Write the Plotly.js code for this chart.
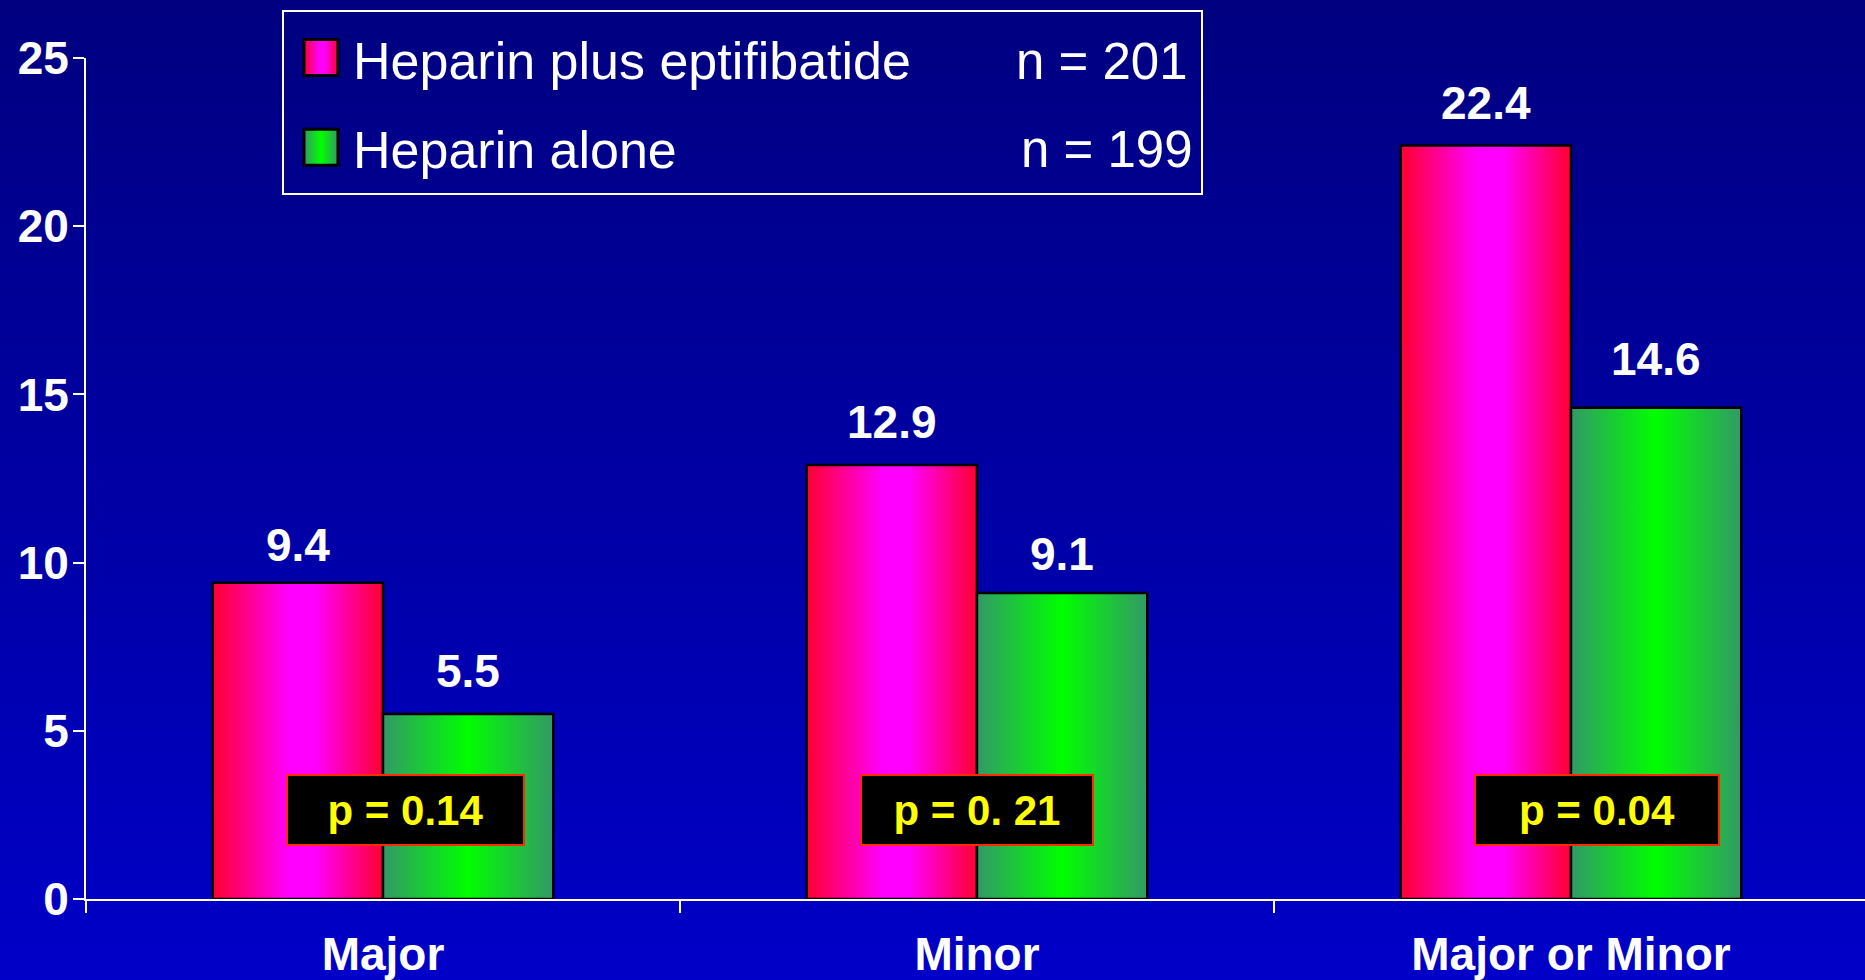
<!DOCTYPE html>
<html><head><meta charset="utf-8">
<script src="https://cdn.plot.ly/plotly-3.0.1.min.js"></script>
<style>
html,body{margin:0;padding:0;width:1865px;height:980px;overflow:hidden;background:linear-gradient(to bottom,#000080 0%,#0000c8 100%);}
#chart{width:1865px;height:980px;}
</style></head><body><div id="chart"></div>
<script>
// ---- data ----
const categories = ['Major', 'Minor', 'Major or Minor'];
const seriesNames = ['Heparin plus eptifibatide', 'Heparin alone'];
const sampleSizes = ['n = 201', 'n = 199'];
const heparinPlusEptifibatide = [9.4, 12.9, 22.4];
const heparinAlone = [5.5, 9.1, 14.6];
const pValueLabels = ['p = 0.14', 'p = 0. 21', 'p = 0.04'];
const yTickValues = [0, 5, 10, 15, 20, 25];

// ---- layout helpers ----
const W = 1865, H = 980, M = {l: 86, r: 0, t: 58, b: 81};
const plotW = W - M.l - M.r, plotH = H - M.t - M.b;
const px2x = px => (px - M.l) / plotW;
const px2y = py => (H - M.b - py) / plotH;
const BARGAP = 0.4267;
const X_RANGE = [-0.5, 2.495];
const catW = plotW / (X_RANGE[1] - X_RANGE[0]);
const barHalf = catW * (1 - BARGAP) / 4;

const SANS = 'Liberation Sans, Arial, sans-serif';
const labelFont = {family: SANS, weight: 'bold', size: 46, color: '#ffffff'};
const barLine = {color: '#000000', width: 2.5};

const seriesValues = [heparinPlusEptifibatide, heparinAlone];
const seriesColors = ['#ff00ff', '#00ff00'];
// vertical lift (px) of each value label above its bar, as placed on the slide
const labelLift = [[10, 15, 14], [15, 11, 21]];

const traces = seriesValues.map((vals, s) => ({
  type: 'bar', name: seriesNames[s], x: categories, y: vals,
  marker: {color: seriesColors[s], line: barLine},
  legendgroup: 'g' + s, hoverinfo: 'none'
}));

const annotations = [];
seriesValues.forEach((vals, s) => {
  vals.forEach((v, i) => {
    annotations.push({
      x: categories[i], y: v, xref: 'x', yref: 'y', text: v.toFixed(1),
      showarrow: false, yanchor: 'bottom', xanchor: 'center',
      xshift: s === 0 ? -barHalf : barHalf, yshift: labelLift[s][i], font: labelFont
    });
  });
});
const pShift = [23, 0, 26];
const pWidth = [235, 230, 242];
pValueLabels.forEach((t, i) => {
  annotations.push({
    x: categories[i], y: 2.646, xref: 'x', yref: 'y', text: t, showarrow: false,
    xanchor: 'center', yanchor: 'middle', xshift: pShift[i],
    bgcolor: '#000000', bordercolor: '#ff2a00', borderwidth: 2, borderpad: 0,
    width: pWidth[i], height: 68,
    font: {family: SANS, weight: 'bold', size: 42, color: '#ffff00'}
  });
});
const nRight = [1190, 1195];
const nRowY = [61, 150];
sampleSizes.forEach((t, i) => {
  annotations.push({
    x: px2x(nRight[i]), y: px2y(nRowY[i]), xref: 'paper', yref: 'paper', text: t,
    showarrow: false, xanchor: 'right', yanchor: 'middle',
    font: {family: SANS, size: 51, color: '#ffffff'}
  });
});

const layout = {
  width: W, height: H, margin: M,
  paper_bgcolor: 'rgba(0,0,0,0)', plot_bgcolor: 'rgba(0,0,0,0)',
  barmode: 'group', bargap: BARGAP, bargroupgap: 0,
  showlegend: true,
  legend: {
    x: px2x(298), y: px2y(18), xanchor: 'left', yanchor: 'top', itemwidth: 45,
    bgcolor: 'rgba(0,0,0,0)', borderwidth: 0, tracegroupgap: 19,
    font: {family: SANS, size: 52, color: '#ffffff'}
  },
  xaxis: {
    type: 'category', range: X_RANGE, showline: true, linecolor: '#ffffff', linewidth: 2,
    ticks: 'outside', tickson: 'boundaries', ticklen: 12, tickwidth: 2, tickcolor: '#ffffff',
    showgrid: false, zeroline: false, tickfont: labelFont, ticklabelstandoff: 14, fixedrange: true
  },
  yaxis: {
    range: [0, 25], tickmode: 'array', tickvals: yTickValues, ticktext: yTickValues.map(String),
    showline: true, linecolor: '#ffffff', linewidth: 2,
    ticks: 'outside', ticklen: 11, tickwidth: 2, tickcolor: '#ffffff',
    showgrid: false, zeroline: false, tickfont: labelFont, ticklabelstandoff: -5, fixedrange: true
  },
  shapes: [{
    type: 'rect', xref: 'paper', yref: 'paper',
    x0: px2x(283), x1: px2x(1202), y0: px2y(194), y1: px2y(11),
    line: {color: '#ffffff', width: 2}, fillcolor: 'rgba(0,0,0,0)'
  }],
  annotations: annotations
};

const gradStops = [
  [['0', '#ff0030'], ['0.45', '#ff00ff'], ['0.6', '#ff00ff'], ['1', '#ff0030']],
  [['0', '#339966'], ['0.5', '#00ff00'], ['1', '#339966']]
];

Plotly.newPlot('chart', traces, layout, {staticPlot: true}).then(gd => {
  const NS = 'http://www.w3.org/2000/svg';
  const svg = gd.querySelector('svg.main-svg');
  let defs = svg.querySelector('defs');
  if (!defs) { defs = document.createElementNS(NS, 'defs'); svg.insertBefore(defs, svg.firstChild); }
  gradStops.forEach((stops, s) => {
    const g = document.createElementNS(NS, 'linearGradient');
    g.setAttribute('id', 'barGrad' + s);
    g.setAttribute('x1', '0'); g.setAttribute('y1', '0');
    g.setAttribute('x2', '1'); g.setAttribute('y2', '0');
    stops.forEach(([o, c]) => {
      const st = document.createElementNS(NS, 'stop');
      st.setAttribute('offset', o); st.setAttribute('stop-color', c);
      g.appendChild(st);
    });
    defs.appendChild(g);
  });
  gd.querySelectorAll('.barlayer .trace').forEach((t, s) => {
    t.querySelectorAll('path').forEach(p => p.style.fill = 'url(#barGrad' + s + ')');
  });
  gd.querySelectorAll('.legend .traces').forEach((t, s) => {
    const p = t.querySelector('.legendpoints path');
    const txt = t.querySelector('text.legendtext');
    if (!p || !txt) return;
    p.style.strokeWidth = '0px';
    const pr = p.getBoundingClientRect(), tr = txt.getBoundingClientRect();
    const cx = (pr.left + pr.right) / 2, cy = (pr.top + pr.bottom) / 2;
    const X = tr.left - 32, Y = (tr.top + tr.bottom) / 2 - 3;
    const dx = X - cx, dy = Y - cy;
    p.setAttribute('d', `M${dx - 17},${dy - 18}h34v36h-34Z`);
    p.style.fill = 'url(#barGrad' + s + ')';
    p.style.stroke = '#000000';
    p.style.strokeWidth = '3px';
  });
});
</script>
</body></html>
